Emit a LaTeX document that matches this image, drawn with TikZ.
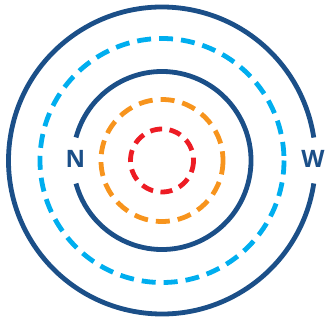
\documentclass[tikz,border=0pt]{standalone}
\usepackage{fontspec}
\setsansfont{Open Sans}
\definecolor{dblue}{HTML}{1B4F88}
\definecolor{cyanc}{HTML}{00AEEF}
\definecolor{orangec}{HTML}{F7941D}
\definecolor{redc}{HTML}{ED1C24}
\begin{document}
\begin{tikzpicture}[x=1pt,y=-1pt,
  solidring/.style={draw=dblue,line width=4.8pt},
  dashring/.style={line width=4.8pt,dash pattern=on 14pt off 8pt},
  lbl/.style={text=dblue,font=\sffamily\bfseries\fontsize{24}{24}\selectfont,inner sep=0pt}]
\useasboundingbox (0,0) rectangle (326,320);
\coordinate (c) at (162,160.5);
% outer ring with gap at right (W)
\draw[solidring] ([shift={(8.6:153.5)}]c) arc[start angle=8.6,end angle=351.4,radius=153.5];
% cyan dashed
\draw[dashring,draw=cyanc] (c) circle[radius=122];
% inner solid ring with gap at left (N)
\draw[solidring] ([shift={(-165:89)}]c) arc[start angle=-165,end angle=165,radius=89];
% orange dashed
\draw[dashring,draw=orangec] (c) circle[radius=61];
% red dashed
\draw[dashring,draw=redc,dash pattern=on 12pt off 7.5pt] (c) circle[radius=31.5];
\node[lbl] (n) at (75.5,159) {N};
\node[lbl] (w) at (313,159) {W};
\end{tikzpicture}
\end{document}
